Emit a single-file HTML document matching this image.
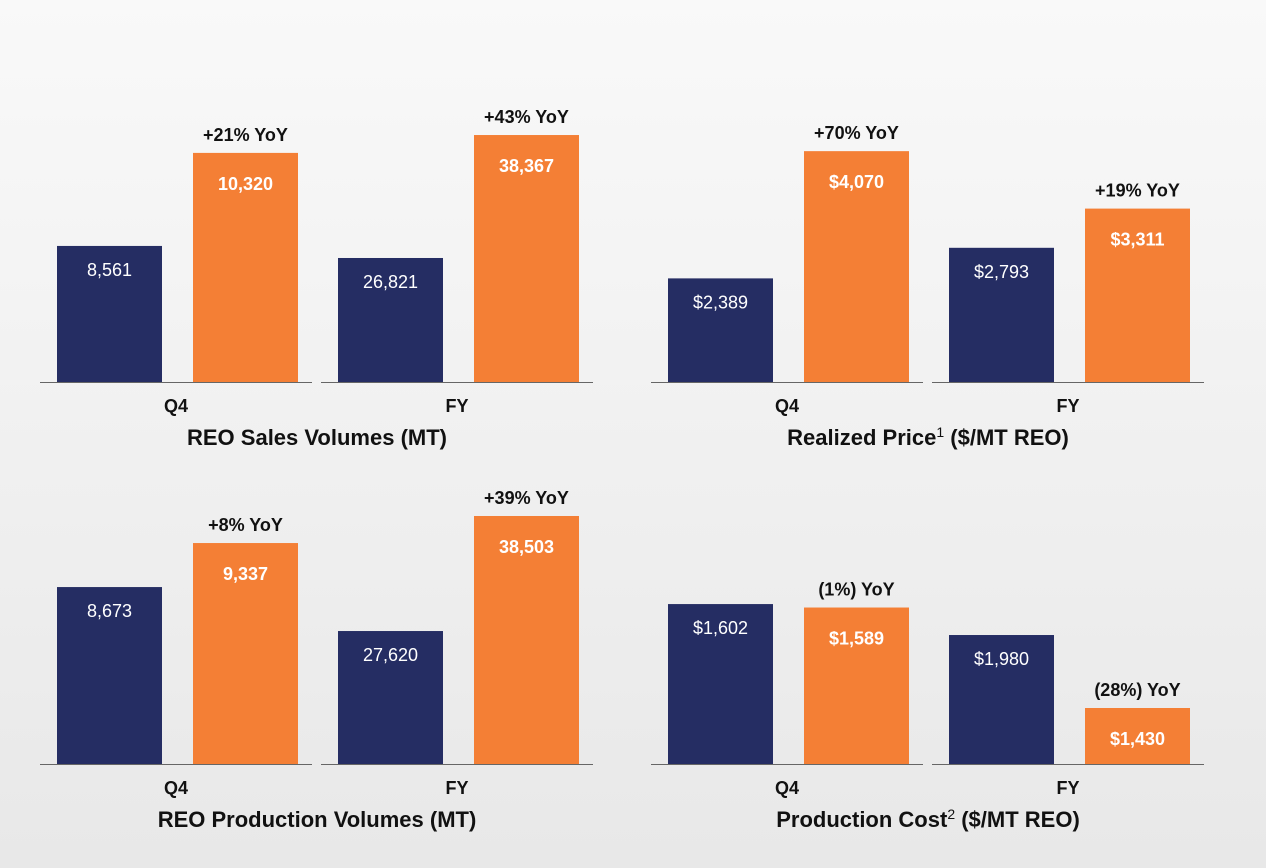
<!DOCTYPE html>
<html><head><meta charset="utf-8"><style>
body{margin:0;width:1266px;height:868px;overflow:hidden;background:linear-gradient(#f9f9f9,#e8e8e8);font-family:"Liberation Sans",Arial,sans-serif;}
svg{position:absolute;left:0;top:0}
text{font-family:"Liberation Sans",Arial,sans-serif}
</style></head><body>
<svg id="c" width="1266" height="868"></svg>
<script>
const categories=["Q4","FY"];
const titles=["REO Sales Volumes (MT)","Realized Price","REO Production Volumes (MT)","Production Cost"];
const titleSup=["","1","","2"];
const titleTail=[""," ($/MT REO)",""," ($/MT REO)"];
const prevValues=[[8561,26821],[2389,2793],[8673,27620],[1602,1980]];
const currValues=[[10320,38367],[4070,3311],[9337,38503],[1589,1430]];
const prevLabels=[["8,561","26,821"],["$2,389","$2,793"],["8,673","27,620"],["$1,602","$1,980"]];
const currLabels=[["10,320","38,367"],["$4,070","$3,311"],["9,337","38,503"],["$1,589","$1,430"]];
const yoyLabels=[["+21% YoY","+43% YoY"],["+70% YoY","+19% YoY"],["+8% YoY","+39% YoY"],["(1%) YoY","(28%) YoY"]];
const domainLo=[[5989,15177],[1020,1020],[6004,15040],[1000,1008]];
const domainHi=[[10715,38651],[4323,4323],[9775,38692],[1941,2892]];
const NS="http://www.w3.org/2000/svg",svg=document.getElementById('c');
function el(t,a,txt){const e=document.createElementNS(NS,t);for(const k in a)e.setAttribute(k,a[k]);if(txt!==undefined)e.textContent=txt;svg.appendChild(e);return e;}
const panelX=[40,651,40,651],panelY=[382,382,764,764],H=250;
function yScale(p,g,v){const lo=domainLo[p][g],hi=domainHi[p][g];return panelY[p]-(v-lo)/(hi-lo)*H;}
for(let p=0;p<4;p++){
  const x0=panelX[p],base=panelY[p];
  for(let g=0;g<2;g++){
    const gx=x0+g*281;
    const ax=el('line',{x1:gx,x2:gx+272,y1:base+0.5,y2:base+0.5,stroke:'#666','stroke-width':1});
    
    const px=gx+17,cx=gx+153,w=105;
    const yp=yScale(p,g,prevValues[p][g]),yc=yScale(p,g,currValues[p][g]);
    const b1=el('rect',{x:px,y:yp,width:w,height:base-yp,fill:'#252d63'});
    
    const b2=el('rect',{x:cx,y:yc,width:w,height:base-yc,fill:'#f47f35'});
    
    const t1=el('text',{x:px+w/2,y:yp+30,'text-anchor':'middle',fill:'#fff','font-size':18},prevLabels[p][g]);
    
    const t2=el('text',{x:cx+w/2,y:yc+37,'text-anchor':'middle',fill:'#fff','font-size':18,'font-weight':'bold'},currLabels[p][g]);
    
    const t3=el('text',{x:cx+w/2,y:yc-12,'text-anchor':'middle',fill:'#111','font-size':18,'font-weight':'bold'},yoyLabels[p][g]);
    
    const t4=el('text',{x:gx+136,y:base+30,'text-anchor':'middle',fill:'#111','font-size':18,'font-weight':'bold'},categories[g]);
    
  }
  const tt=el('text',{x:x0+277,y:base+63,'text-anchor':'middle',fill:'#111','font-size':22,'font-weight':'bold'});
  
  const s1=document.createElementNS(NS,'tspan');s1.textContent=titles[p];tt.appendChild(s1);
  if(titleSup[p]){const s2=document.createElementNS(NS,'tspan');s2.setAttribute('font-size',14);s2.setAttribute('font-weight','normal');s2.setAttribute('dy',-8);s2.textContent=titleSup[p];tt.appendChild(s2);
  const s3=document.createElementNS(NS,'tspan');s3.setAttribute('dy',8);s3.textContent=titleTail[p];tt.appendChild(s3);}
}
</script></body></html>
